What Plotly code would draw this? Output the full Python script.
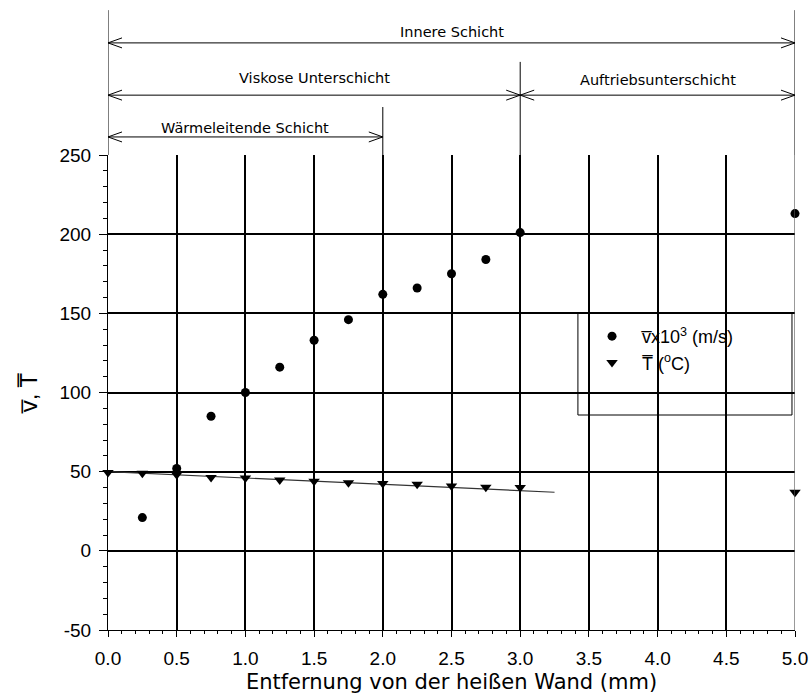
import plotly.graph_objects as go

# Data
x_v = [0.25, 0.5, 0.75, 1.0, 1.25, 1.5, 1.75, 2.0, 2.25, 2.5, 2.75, 3.0, 5.0]
v_vals = [21, 52, 85, 100, 116, 133, 146, 162, 166, 175, 184, 201, 213]
x_T = [0.0, 0.25, 0.5, 0.75, 1.0, 1.25, 1.5, 1.75, 2.0, 2.25, 2.5, 2.75, 3.0, 5.0]
T_vals = [49.5, 49, 48, 46.3, 46, 44.8, 44, 43, 42.5, 42, 41, 40.2, 40, 37]
fit_x = [0.0, 3.25]
fit_y = [50, 37]

x_ticks = [0.0, 0.5, 1.0, 1.5, 2.0, 2.5, 3.0, 3.5, 4.0, 4.5, 5.0]
y_ticks = [-50, 0, 50, 100, 150, 200, 250]
y_ticktext = ["-50", "0", "50", "100", "150", "200", "250"]

# Layer bands: label, start (mm), end (mm)
band_labels = ["Innere Schicht", "Viskose Unterschicht",
               "Auftriebsunterschicht", "Wärmeleitende Schicht"]
band_start = [0.0, 0.0, 3.0, 0.0]
band_end = [5.0, 3.0, 5.0, 2.0]
# layout (paper y) of the band arrows and their labels
band_arrow_y = [1.236, 1.126, 1.126, 1.038]
band_text_y = [1.259, 1.162, 1.158, 1.057]
# boundary lines above the plot: x (mm), top (paper y)
bound_x = [0.0, 5.0, 3.0, 2.0]
bound_top = [1.305, 1.305, 1.196, 1.101]

W, H = 810, 699
ml, mr, mt, mb = 108, 15, 155, 69
pw = W - ml - mr
ph = H - mt - mb
xr = (0, 5)
dx = 14 / pw * (xr[1] - xr[0])   # chevron length in data units
dy = 5 / ph                      # chevron half height in paper units

fig = go.Figure()

fig.add_trace(go.Scatter(x=fit_x, y=fit_y, mode="lines",
                         line=dict(color="#333333", width=1.2),
                         showlegend=False, hoverinfo="skip"))
fig.add_trace(go.Scatter(x=x_v, y=v_vals, mode="markers", cliponaxis=False,
                         marker=dict(symbol="circle", size=9, color="black"),
                         name="v\u0305x10<sup>3</sup> (m/s)"))
fig.add_trace(go.Scatter(x=x_T, y=T_vals, mode="markers", cliponaxis=False,
                         marker=dict(symbol="triangle-down", size=10, color="black"),
                         name="T\u0305 (<sup>o</sup>C)"))

shapes = []
# legend box
shapes.append(dict(type="rect", xref="paper", yref="paper",
                   x0=0.684, x1=0.9956, y0=0.4526, y1=0.667,
                   fillcolor="white", line=dict(color="black", width=1),
                   layer="between"))
# vertical boundaries above the plot
for xv, ytop in zip(bound_x, bound_top):
    shapes.append(dict(type="line", xref="x", yref="paper",
                       x0=xv, x1=xv, y0=1.0, y1=ytop,
                       line=dict(color="black", width=1)))
# double-headed arrows
line_style = dict(color="black", width=1)
annotations = []
for lab, xa, xb, ay, ty in zip(band_labels, band_start, band_end,
                               band_arrow_y, band_text_y):
    shapes.append(dict(type="line", xref="x", yref="paper",
                       x0=xa, x1=xb, y0=ay, y1=ay, line=line_style))
    shapes.append(dict(type="path", xref="x", yref="paper",
                       path=f"M{xa + dx},{ay + dy} L{xa},{ay} L{xa + dx},{ay - dy}",
                       line=line_style))
    shapes.append(dict(type="path", xref="x", yref="paper",
                       path=f"M{xb - dx},{ay + dy} L{xb},{ay} L{xb - dx},{ay - dy}",
                       line=line_style))
    annotations.append(dict(
        x=(xa + xb) / 2, y=ty, xref="x", yref="paper",
        text=lab, showarrow=False, yanchor="middle",
        font=dict(family="DejaVu Sans", size=14.5, color="black")))
# right border line at x = 5
shapes.append(dict(type="line", xref="x", yref="paper", x0=5, x1=5, y0=0, y1=1,
                   line=dict(color="#555555", width=1.2)))

fig.update_layout(
    width=W, height=H,
    margin=dict(l=ml, r=mr, t=mt, b=mb),
    paper_bgcolor="white", plot_bgcolor="white",
    showlegend=True,
    legend=dict(x=0.690, y=0.657, xanchor="left", yanchor="top",
                bgcolor="rgba(0,0,0,0)", borderwidth=0, itemwidth=50,
                font=dict(family="Liberation Sans", size=18, color="black"),
                tracegroupgap=0),
    shapes=shapes,
    annotations=annotations,
    xaxis=dict(range=list(xr), tickvals=x_ticks,
               ticktext=[f"{t:.1f}" for t in x_ticks],
               automargin=False,
               showgrid=True, gridcolor="black", gridwidth=1.5,
               showline=True, linecolor="black", linewidth=1.2,
               zeroline=False,
               ticks="outside", ticklen=6, tickcolor="black",
               ticklabelstandoff=5,
               minor=dict(dtick=0.1, ticks="outside", ticklen=3,
                          tickcolor="black", showgrid=False),
               tickfont=dict(family="Liberation Sans", size=19, color="black"),
               title=dict(text="Entfernung von der heißen Wand (mm)",
                          font=dict(family="DejaVu Sans", size=21, color="black"),
                          standoff=6)),
    yaxis=dict(range=[-50, 250], tickvals=y_ticks, ticktext=y_ticktext,
               automargin=False,
               showgrid=True, gridcolor="black", gridwidth=1.5,
               showline=True, linecolor="black", linewidth=1.2,
               zeroline=False,
               ticks="outside", ticklen=8, tickcolor="black",
               ticklabelstandoff=4,
               minor=dict(dtick=10, ticks="outside", ticklen=4,
                          tickcolor="black", showgrid=False),
               tickfont=dict(family="Liberation Sans", size=19, color="black"),
               title=dict(text="v\u0305, T\u0305",
                          font=dict(family="Liberation Sans", size=24, color="black"),
                          standoff=14)),
)

fig.write_html("out.html",
               config={"displayModeBar": False},
               post_script="document.body.style.margin='0';"
                           "document.body.style.overflow='hidden';")
